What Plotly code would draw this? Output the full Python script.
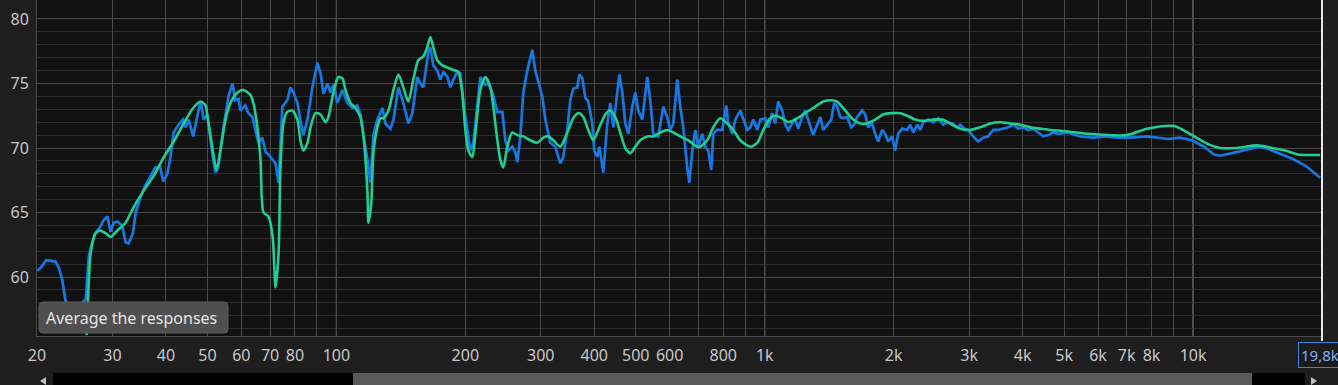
import math
import plotly.graph_objects as go

# ---- measured response (blue) ----
blue_freq = [
    20.0, 20.4, 21.0, 22.1, 22.5, 22.9, 23.3, 23.9, 24.8, 25.6,
    26.0, 26.4, 26.8, 27.4, 28.1, 28.6, 29.2, 29.7, 30.2, 30.8,
    31.6, 32.2, 32.7, 33.5, 34.0, 34.9, 35.8, 36.8, 37.8, 38.8,
    39.4, 40.3, 41.0, 41.7, 42.8, 43.8, 44.5, 45.2, 46.3, 47.3,
    48.2, 49.0, 50.0, 51.3, 52.2, 53.0, 54.5, 56.0, 57.2, 58.1,
    59.1, 59.7, 61.3, 62.3, 63.7, 64.7, 65.8, 67.2, 68.3, 69.4,
    71.0, 72.1, 73.3, 74.8, 76.8, 78.1, 79.4, 81.1, 82.4, 83.7,
    85.6, 87.9, 90.3, 91.8, 93.3, 95.3, 96.8, 98.4, 100.5, 103.3,
    106.1, 109.0, 111.9, 113.8, 115.7, 118.2, 120.0, 122.0, 124.6, 128.1,
    130.1, 133.7, 135.9, 139.6, 143.3, 147.2, 150.4, 154.5, 157.0, 159.6,
    163.9, 165.7, 168.4, 172.0, 174.9, 177.8, 181.6, 184.5, 187.5, 191.6,
    194.7, 197.9, 202.2, 205.5, 208.8, 213.4, 216.8, 222.7, 226.3, 231.3,
    237.6, 244.0, 248.0, 252.0, 257.4, 261.6, 264.5, 268.8, 273.2, 279.1,
    286.7, 291.3, 296.1, 302.5, 307.4, 315.8, 324.4, 333.2, 338.6, 346.0,
    351.6, 357.3, 365.1, 369.1, 375.1, 381.2, 387.4, 395.7, 400.0, 406.5,
    411.0, 419.9, 429.0, 436.0, 443.1, 452.7, 457.7, 465.1, 472.6, 480.3,
    490.7, 498.7, 506.8, 517.8, 531.9, 540.5, 549.3, 564.2, 579.7, 592.2,
    601.9, 611.7, 625.0, 635.1, 645.5, 659.4, 666.7, 677.4, 688.4, 699.6,
    714.8, 726.4, 738.2, 750.2, 758.4, 774.8, 795.9, 813.1, 822.0, 839.9,
    853.5, 876.8, 891.1, 910.4, 925.2, 940.3, 960.6, 976.3, 1003, 1019,
    1041, 1058, 1075, 1099, 1117, 1135, 1159, 1178, 1197, 1223,
    1243, 1263, 1298, 1326, 1348, 1370, 1400, 1430, 1453, 1476,
    1501, 1525, 1558, 1592, 1617, 1644, 1689, 1716, 1744, 1782,
    1811, 1840, 1880, 1911, 1942, 1984, 2016, 2049, 2094, 2151,
    2186, 2222, 2270, 2307, 2345, 2408, 2474, 2541, 2611, 2667,
    2739, 2814, 2860, 2922, 2986, 3067, 3150, 3237, 3325, 3416,
    3508, 3604, 3702, 3803, 3906, 4013, 4122, 4235, 4350, 4469,
    4590, 4715, 4843, 5083, 5449, 5844, 6232, 6647, 7129, 7810,
    8743, 9326, 9946, 10608, 11195, 11561, 12331, 13223, 14258, 15046,
    16045, 17116, 18351, 19800,
]
blue_db = [
    60.5, 60.7, 61.3, 61.2, 60.7, 59.8, 58.2, 57.6, 57.5, 58.0,
    58.3, 61.5, 62.5, 63.4, 63.9, 64.4, 64.7, 63.5, 64.2, 64.3,
    64.0, 62.7, 62.6, 63.4, 65.0, 66.2, 67.1, 67.8, 68.5, 68.5,
    67.4, 68.0, 69.3, 71.2, 71.8, 72.2, 71.6, 72.2, 70.9, 72.4,
    73.6, 72.2, 72.6, 69.6, 68.1, 68.5, 71.6, 74.0, 75.0, 73.7,
    73.8, 72.9, 73.3, 72.7, 72.4, 71.4, 70.4, 70.8, 69.7, 69.5,
    69.1, 68.8, 67.3, 73.2, 73.7, 74.7, 74.3, 73.5, 72.2, 71.0,
    72.2, 74.7, 76.6, 75.8, 74.2, 75.0, 74.3, 74.9, 73.5, 74.5,
    73.5, 73.1, 73.3, 72.6, 70.9, 69.1, 67.3, 71.0, 72.2, 73.1,
    71.9, 71.5, 72.2, 74.7, 73.5, 71.9, 72.7, 75.5, 75.0, 74.7,
    77.4, 77.8, 76.4, 76.0, 75.3, 75.9, 75.5, 74.7, 75.3, 75.9,
    75.8, 73.5, 71.4, 69.8, 70.4, 73.5, 75.5, 74.9, 75.0, 74.3,
    72.8, 72.8, 70.6, 69.8, 70.1, 69.7, 68.9, 70.9, 74.3, 76.0,
    77.6, 76.0, 75.1, 74.0, 72.2, 70.4, 70.1, 68.8, 69.3, 71.4,
    73.7, 74.6, 74.7, 75.7, 75.4, 73.9, 73.6, 71.9, 69.8, 69.3,
    70.1, 68.1, 71.9, 73.5, 71.6, 74.5, 75.7, 74.3, 71.9, 71.1,
    73.2, 74.3, 72.9, 72.2, 75.5, 73.7, 71.1, 70.9, 73.2, 72.4,
    71.4, 71.9, 75.3, 73.2, 71.6, 68.5, 67.3, 69.8, 71.4, 70.1,
    71.1, 70.1, 69.8, 68.3, 71.1, 71.4, 71.4, 73.3, 71.9, 71.1,
    72.2, 72.9, 72.2, 71.4, 71.6, 72.2, 71.4, 72.2, 72.3, 71.6,
    72.7, 71.9, 73.6, 72.9, 71.8, 71.4, 71.9, 72.3, 71.5, 72.4,
    72.9, 72.2, 71.0, 71.8, 72.4, 71.4, 71.8, 72.2, 73.5, 73.2,
    72.4, 72.3, 72.4, 71.6, 71.8, 72.4, 72.9, 72.6, 71.6, 71.9,
    71.1, 70.5, 71.4, 71.1, 70.5, 70.9, 69.8, 71.1, 71.5, 71.4,
    71.8, 71.2, 71.8, 71.4, 72.0, 72.2, 72.0, 72.3, 71.8, 72.0,
    71.9, 71.6, 71.8, 71.5, 71.4, 70.9, 70.5, 70.8, 70.9, 71.4,
    71.4, 71.5, 71.6, 71.8, 71.5, 71.6, 71.4, 71.5, 71.2, 70.9,
    71.0, 71.2, 71.1, 71.2, 70.9, 70.8, 70.9, 70.8, 70.8, 70.9,
    70.7, 70.8, 70.6, 70.1, 69.5, 69.4, 69.6, 69.85, 70.1, 69.9,
    69.5, 69.15, 68.6, 67.7,
]

# ---- averaged / smoothed response (green) ----
green_freq = [
    26.1, 26.3, 26.7, 27.4, 28.1, 28.9, 29.7, 30.8, 32.2, 33.6,
    35.5, 37.4, 39.4, 41.7, 44.0, 46.3, 48.2, 49.5, 50.0, 51.3,
    52.5, 53.6, 55.1, 56.6, 58.8, 60.7, 63.0, 64.0, 65.4, 66.5,
    67.6, 69.4, 71.0, 72.1, 73.3, 74.0, 75.2, 76.8, 78.9, 81.1,
    82.4, 83.7, 85.6, 87.0, 89.4, 91.8, 94.3, 95.8, 98.4, 101.1,
    103.3, 105.0, 107.8, 110.7, 113.8, 115.7, 118.2, 118.8, 120.6, 122.0,
    124.6, 126.7, 128.8, 132.3, 135.9, 139.6, 143.3, 147.2, 151.2, 155.3,
    159.6, 163.0, 165.7, 168.4, 172.0, 176.8, 182.6, 189.5, 192.6, 196.8,
    200.0, 203.3, 207.7, 211.1, 216.8, 222.7, 228.8, 232.5, 237.6, 241.4,
    245.3, 250.6, 257.4, 264.5, 273.2, 283.6, 294.5, 304.2, 312.4, 321.0,
    333.2, 346.0, 357.3, 367.0, 377.1, 387.4, 397.9, 408.7, 424.4, 436.0,
    447.9, 460.1, 472.6, 485.5, 498.7, 512.3, 531.9, 549.3, 570.4, 592.2,
    611.7, 635.1, 663.0, 695.9, 707.2, 734.3, 758.4, 787.4, 817.6, 844.5,
    876.8, 925.2, 960.6, 992.2, 1030, 1058, 1099, 1135, 1178, 1230,
    1298, 1370, 1430, 1476, 1542, 1609, 1671, 1735, 1811, 1890,
    1984, 2072, 2151, 2245, 2345, 2474, 2597, 2710, 2860, 3018,
    3185, 3361, 3546, 3742, 3949, 4167, 4397, 4639, 5056, 5689,
    7015, 7810, 9030, 10000, 10839, 11561, 12666, 14103, 15046, 16393,
    17580, 18750, 19800,
]
green_db = [
    55.5, 58.2, 61.9, 63.4, 63.6, 63.4, 63.1, 63.6, 64.2, 65.4,
    66.7, 67.8, 69.2, 70.5, 71.9, 73.1, 73.6, 73.3, 72.4, 70.1,
    68.3, 69.8, 72.2, 73.5, 74.3, 74.5, 74.1, 73.5, 71.6, 69.1,
    65.0, 64.7, 63.1, 59.2, 61.9, 68.3, 71.9, 72.8, 72.9, 72.2,
    70.6, 69.8, 70.4, 71.6, 72.7, 72.6, 72.0, 72.4, 74.3, 75.5,
    75.4, 74.5, 73.5, 73.1, 72.4, 70.9, 66.5, 64.2, 65.7, 69.6,
    71.6, 72.3, 72.3, 72.9, 74.5, 75.7, 74.7, 73.6, 75.3, 76.8,
    77.1, 77.8, 78.6, 77.8, 76.8, 76.4, 76.2, 76.0, 75.9, 74.3,
    71.4, 69.8, 69.3, 71.1, 74.5, 75.5, 74.7, 73.2, 70.6, 69.1,
    68.5, 70.1, 71.2, 71.0, 70.9, 70.6, 70.4, 70.8, 70.9, 70.6,
    70.1, 71.2, 72.3, 72.7, 72.4, 71.4, 70.6, 71.4, 72.6, 72.9,
    72.4, 71.2, 70.0, 69.6, 70.1, 70.6, 70.9, 70.9, 71.2, 71.4,
    71.2, 70.9, 70.6, 70.1, 70.1, 70.6, 71.6, 72.3, 71.9, 71.4,
    70.6, 70.1, 70.4, 71.4, 72.3, 72.5, 72.3, 72.0, 72.2, 72.6,
    73.1, 73.6, 73.7, 73.6, 72.9, 72.2, 71.9, 71.9, 72.2, 72.6,
    72.7, 72.7, 72.5, 72.2, 72.1, 72.2, 72.2, 71.9, 71.5, 71.4,
    71.6, 71.9, 72.0, 71.9, 71.8, 71.6, 71.5, 71.4, 71.3, 71.1,
    71.0, 71.5, 71.7, 70.95, 70.3, 70.0, 70.0, 70.2, 70.05, 69.8,
    69.5, 69.46, 69.46,
]

# ---- axes ----
x_tick_vals = [20, 30, 40, 50, 60, 70, 80, 90, 100,
               200, 300, 400, 500, 600, 700, 800, 900, 1000,
               2000, 3000, 4000, 5000, 6000, 7000, 8000, 9000, 10000]
x_tick_text = ["20", "30", "40", "50", "60", "70", "80", "", "100",
               "200", "300", "400", "500", "600", "", "800", "", "1k",
               "2k", "3k", "4k", "5k", "6k", "7k", "8k", "", "10k"]
decade_lines = [100, 1000, 10000]
y_tick_vals = [60, 65, 70, 75, 80]
y_minor_vals = [v for v in range(56, 80) if v % 5 != 0]
x_range_hz = [20, 20000]
y_range_db = [55.43, 81.47]

W, H = 1338, 385
L, R, T, B = 37, 16, 0, 49
PW, PH = W - L - R, H - T - B


def px(xp):
    return (xp - L) / PW


def py(yp):
    return (H - B - yp) / PH


FONT = "Noto Sans"
TXT = "#c8c8c8"

fig = go.Figure()
fig.add_trace(go.Scatter(
    x=blue_freq, y=blue_db, mode="lines",
    line=dict(color="#1878e2", width=2.7),
    hoverinfo="skip", showlegend=False))
fig.add_trace(go.Scatter(
    x=green_freq, y=green_db, mode="lines",
    line=dict(color="#20cf90", width=2.6, shape="spline", smoothing=0.7),
    hoverinfo="skip", showlegend=False))

shapes = []
for f in decade_lines:
    shapes.append(dict(type="line", xref="x", yref="paper", x0=f, x1=f, y0=0, y1=1,
                       line=dict(color="#a2a2a2", width=1), layer="between"))
# right cursor / edge line
shapes.append(dict(type="line", xref="paper", yref="paper", x0=1, x1=1,
                   y0=py(341), y1=1, line=dict(color="#e8e8e8", width=2), layer="above"))

# tooltip box (rounded)
x0, x1, y0, y1 = px(39), px(228), py(333), py(302)
rx, ry = 4 / PW, 4 / PH
path = (f"M {x0+rx},{y0} L {x1-rx},{y0} Q {x1},{y0} {x1},{y0+ry} "
        f"L {x1},{y1-ry} Q {x1},{y1} {x1-rx},{y1} L {x0+rx},{y1} "
        f"Q {x0},{y1} {x0},{y1-ry} L {x0},{y0+ry} Q {x0},{y0} {x0+rx},{y0} Z")
shapes.append(dict(type="path", xref="paper", yref="paper", path=path,
                   fillcolor="#4f4f4f", line=dict(color="#5c5c5c", width=1), layer="above"))

# scrollbar
sb_y0, sb_y1 = py(373), py(390)
shapes.append(dict(type="rect", xref="paper", yref="paper", x0=px(53), x1=px(353),
                   y0=sb_y1, y1=sb_y0, fillcolor="#000000", line=dict(width=0)))
shapes.append(dict(type="rect", xref="paper", yref="paper", x0=px(353), x1=px(1252),
                   y0=sb_y1, y1=sb_y0, fillcolor="#5a5a5a", line=dict(width=0)))
shapes.append(dict(type="rect", xref="paper", yref="paper", x0=px(1252), x1=px(1305),
                   y0=sb_y1, y1=sb_y0, fillcolor="#000000", line=dict(width=0)))
shapes.append(dict(type="path", xref="paper", yref="paper",
                   path=f"M {px(40)},{py(381)} L {px(46)},{py(377)} L {px(46)},{py(385)} Z",
                   fillcolor="#c0c0c0", line=dict(width=0)))
shapes.append(dict(type="path", xref="paper", yref="paper",
                   path=f"M {px(1317)},{py(381)} L {px(1311)},{py(377)} L {px(1311)},{py(385)} Z",
                   fillcolor="#c0c0c0", line=dict(width=0)))

annotations = [
    dict(text="Average the responses", xref="paper", yref="paper",
         x=px(44), y=py(318), xanchor="left", yanchor="middle", showarrow=False,
         font=dict(family=FONT, size=16, color="#e4e4e4")),
    dict(text="19,8k", xref="paper", yref="paper",
         x=px(1298), y=py(355), xanchor="left", yanchor="middle", showarrow=False,
         font=dict(family=FONT, size=15, color="#7fb2f2"),
         bordercolor="#3f82d8", borderwidth=1, borderpad=2, bgcolor="#1b1b1b"),
]

fig.update_layout(
    width=W, height=H, autosize=False,
    margin=dict(l=L, r=R, t=T, b=B, pad=0),
    paper_bgcolor="#1e1e1e", plot_bgcolor="#111111",
    font=dict(family=FONT, size=16, color=TXT),
    showlegend=False,
    shapes=shapes, annotations=annotations,
    xaxis=dict(
        type="log", range=[math.log10(x_range_hz[0]), math.log10(x_range_hz[1])],
        tickmode="array", tickvals=x_tick_vals, ticktext=x_tick_text,
        showgrid=True, gridcolor="#484848", gridwidth=1, zeroline=False,
        ticks="", ticklabelstandoff=5, tickfont=dict(family=FONT, size=16, color=TXT),
        showline=True, linecolor="#4a4a4a", linewidth=1, fixedrange=True),
    yaxis=dict(
        range=y_range_db, tickmode="array", tickvals=y_tick_vals,
        showgrid=True, gridcolor="#474747", gridwidth=1, zeroline=False,
        minor=dict(tickmode="array", tickvals=y_minor_vals, showgrid=True,
                   gridcolor="#2c2c2c", gridwidth=1, ticks=""),
        ticks="", ticklabelstandoff=4, tickfont=dict(family=FONT, size=16, color=TXT),
        showline=True, linecolor="#4a4a4a", linewidth=1, fixedrange=True),
)

fig.write_html("out.html")
